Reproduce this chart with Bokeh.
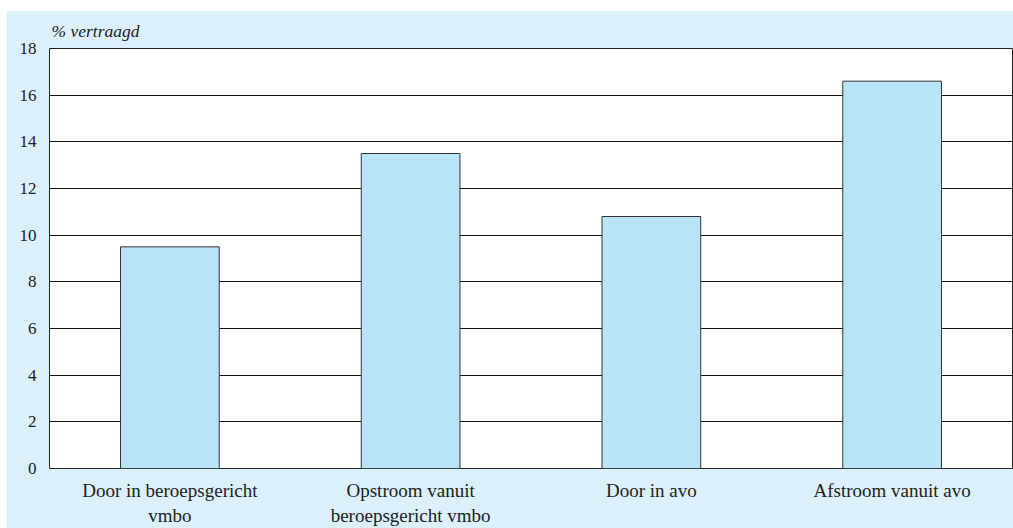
from bokeh.plotting import figure
from bokeh.models import ColumnDataSource, Range1d, FixedTicker, Spacer
from bokeh.layouts import column, row
from bokeh.embed import file_html
from bokeh.resources import INLINE

categories = ["Door in beroepsgericht\nvmbo", "Opstroom vanuit\nberoepsgericht vmbo",
              "Door in avo", "Afstroom vanuit avo"]
values = [9.5, 13.5, 10.8, 16.6]
y_ticks = [0, 2, 4, 6, 8, 10, 12, 14, 16, 18]
y_title = "% vertraagd"

BG = "#dbf0fa"
BAR = "#b9e4f8"
FONT = "'Liberation Serif', serif"

src = ColumnDataSource(dict(cat=categories, val=values))

p = figure(x_range=categories, y_range=Range1d(0, 18), width=1007, height=518,
           output_backend="svg", toolbar_location=None,
           min_border_left=43, min_border_right=1, min_border_top=38, min_border_bottom=59)
p.background_fill_color = "white"
p.border_fill_color = BG
p.outline_line_color = "#222222"
p.outline_line_width = 1

p.vbar(x="cat", top="val", width=0.41, source=src, fill_color=BAR,
       line_color="#333333", line_width=1)

p.title.text = y_title
p.title.text_font = FONT
p.title.text_font_style = "italic"
p.title.text_font_size = "17.5px"
p.title.text_color = "#222222"
p.title.align = "left"
p.title.offset = 2
p.title.standoff = 15

p.xgrid.grid_line_color = None
p.ygrid.grid_line_color = "#111111"
p.ygrid.grid_line_width = 1
p.yaxis.ticker = FixedTicker(ticks=y_ticks)

for ax in (p.xaxis, p.yaxis):
    ax.axis_line_color = None
    ax.major_tick_line_color = None
    ax.minor_tick_line_color = None
    ax.major_tick_out = 0
    ax.major_tick_in = 0
    ax.minor_tick_out = 0
    ax.major_label_text_font = FONT
    ax.major_label_text_color = "#222222"

p.yaxis.major_label_text_font_size = "17px"
p.xaxis.major_label_text_font_size = "19px"
p.yaxis.major_label_standoff = 13
p.xaxis.major_label_standoff = 11

layout = column(Spacer(height=10, width=1013),
                row(Spacer(width=6, height=518), p, spacing=0), spacing=0)

open("out.html", "w").write(file_html(layout, INLINE))
